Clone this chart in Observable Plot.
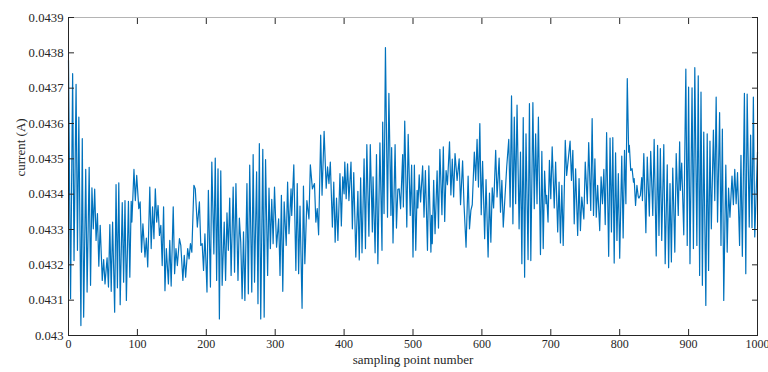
<!DOCTYPE html>
<html><head><meta charset="utf-8">
<script src="https://cdn.jsdelivr.net/npm/d3@7"></script>
<script src="https://cdn.jsdelivr.net/npm/@observablehq/plot@0.6"></script>
<style>
body{margin:0;background:#fff}
svg text{font-family:"Liberation Serif","Times New Roman",serif !important}
g[aria-label="y-axis tick label"] text{font-size:12.7px !important}
g[aria-label="x-axis tick label"] text{font-size:12px !important}
</style>
</head><body><div id="chart"></div>
<script>
// sampling point number (vertices of the trace)
const sampleNumber = [0,3,6,8,11,13,15,18,20,22,25,27,30,32,34,36,38,40,42,44,46,49,51,53,56,58,60,62,64,67,69,71,73,75,78,80,82,84,87,89,91,92,95,
97,99,102,104,106,108,111,113,115,118,120,122,124,126,128,130,132,134,136,138,140,142,145,147,149,152,154,156,158,161,163,166,168,170,173,175,177,179,182,184,187,190,192,194,196,198,
201,203,206,208,211,213,215,217,219,221,223,226,228,230,232,234,236,239,241,243,246,248,250,252,254,256,259,261,263,266,268,270,273,275,277,279,282,284,286,289,291,293,295,297,299,
302,305,307,309,311,313,316,318,320,323,324,327,330,332,334,336,339,341,343,346,349,351,354,357,359,361,363,366,368,371,374,376,378,380,383,385,387,389,391,394,396,398,400,
401,403,405,407,410,412,414,417,420,422,424,426,429,431,433,436,438,441,442,445,447,449,452,455,456,458,460,463,465,468,469,471,474,476,478,480,482,485,486,488,491,493,496,498,500,
502,504,506,507,509,511,514,516,518,521,523,526,527,528,530,532,535,537,539,542,544,546,548,550,553,555,557,559,561,564,567,569,572,574,577,580,582,584,586,589,591,593,595,597,599,601,604,
606,609,611,613,615,617,620,622,625,627,629,631,636,639,641,643,645,647,649,651,654,656,658,660,662,664,667,669,671,674,676,678,680,682,685,687,689,691,693,694,696,698,700,702,705,
707,710,712,714,716,718,721,723,728,730,732,734,736,739,741,743,745,748,750,753,755,758,760,762,764,766,768,771,773,775,777,779,781,784,786,788,790,792,794,796,798,800,803,805,807,
809,811,813,814,816,818,820,821,823,825,827,828,830,832,833,835,838,840,843,845,848,850,853,855,857,859,861,864,866,869,871,873,875,877,880,882,885,887,888,890,893,896,898,900,902,905,907,909,
912,914,916,918,920,922,925,927,929,931,933,936,938,940,942,945,947,949,951,954,956,958,960,963,965,967,969,971,974,976,978,981,983,985,988,990,992,994,996,1000];

// current (A)
const currentA = [0.043779,0.043104,0.043741,0.043212,0.043711,0.043241,0.043618,0.043028,0.043557,0.043052,0.043470,0.043123,0.043476,0.043142,0.043418,0.043302,0.043414,0.043269,0.043345,0.043196,0.043312,0.043156,0.043215,0.043146,0.043220,0.043137,0.043314,0.043125,0.043321,0.043066,0.043427,0.043135,0.043432,0.043087,0.043376,0.043151,0.043382,0.043099,0.043380,0.043165,0.043380,0.043321,0.043470,
0.043382,0.043453,0.043359,0.043378,0.043236,0.043316,0.043222,0.043276,0.043194,0.043420,0.043246,0.043364,0.043274,0.043415,0.043321,0.043368,0.043283,0.043312,0.043198,0.043364,0.043127,0.043246,0.043146,0.043269,0.043140,0.043364,0.043175,0.043246,0.043198,0.043274,0.043255,0.043156,0.043227,0.043165,0.043246,0.043217,0.043260,0.043236,0.043425,0.043415,0.043307,0.043378,0.043255,0.043260,0.043184,0.043288,
0.043123,0.043411,0.043137,0.043491,0.043231,0.043502,0.043156,0.043472,0.043047,0.043466,0.043142,0.043321,0.043156,0.043347,0.043241,0.043389,0.043170,0.043420,0.043179,0.043430,0.043156,0.043332,0.043264,0.043104,0.043293,0.043099,0.043430,0.043118,0.043482,0.043123,0.043512,0.043151,0.043463,0.043090,0.043543,0.043047,0.043527,0.043052,0.043498,0.043170,0.043417,0.043246,0.043385,0.043260,0.043420,
0.043250,0.043330,0.043170,0.043397,0.043125,0.043378,0.043255,0.043434,0.043288,0.043415,0.043340,0.043483,0.043184,0.043430,0.043175,0.043366,0.043077,0.043423,0.043203,0.043382,0.043330,0.043483,0.043415,0.043430,0.043321,0.043359,0.043285,0.043567,0.043397,0.043578,0.043417,0.043477,0.043430,0.043491,0.043307,0.043434,0.043264,0.043389,0.043269,0.043458,0.043310,0.043449,0.043401,
0.043491,0.043387,0.043486,0.043382,0.043491,0.043302,0.043461,0.043222,0.043408,0.043214,0.043446,0.043234,0.043500,0.043246,0.043540,0.043281,0.043540,0.043293,0.043449,0.043234,0.043512,0.043203,0.043545,0.043241,0.043604,0.043345,0.043815,0.043335,0.043685,0.043340,0.043532,0.043262,0.043540,0.043304,0.043414,0.043415,0.043359,0.043512,0.043364,0.043607,0.043307,0.043569,0.043340,0.043482,0.043222,
0.043482,0.043241,0.043411,0.043361,0.043455,0.043378,0.043480,0.043335,0.043467,0.043241,0.043480,0.043236,0.043340,0.043260,0.043439,0.043288,0.043466,0.043304,0.043527,0.043342,0.043534,0.043323,0.043467,0.043427,0.043548,0.043398,0.043499,0.043392,0.043515,0.043439,0.043500,0.043370,0.043494,0.043373,0.043250,0.043451,0.043302,0.043354,0.043370,0.043519,0.043439,0.043555,0.043420,0.043600,0.043342,0.043493,0.043274,
0.043441,0.043222,0.043403,0.043264,0.043418,0.043361,0.043524,0.043392,0.043502,0.043349,0.043439,0.043307,0.043477,0.043555,0.043364,0.043678,0.043316,0.043618,0.043373,0.043652,0.043302,0.043519,0.043203,0.043617,0.043165,0.043571,0.043215,0.043656,0.043212,0.043659,0.043359,0.043571,0.043373,0.043618,0.043229,0.043521,0.043246,0.043465,0.043373,0.043397,0.043321,0.043496,0.043387,0.043534,0.043361,
0.043491,0.043293,0.043434,0.043262,0.043425,0.043255,0.043552,0.043453,0.043550,0.043439,0.043524,0.043316,0.043472,0.043283,0.043444,0.043297,0.043392,0.043330,0.043491,0.043373,0.043546,0.043354,0.043614,0.043340,0.043500,0.043335,0.043425,0.043297,0.043449,0.043373,0.043470,0.043314,0.043574,0.043224,0.043559,0.043293,0.043560,0.043205,0.043517,0.043269,0.043458,0.043219,0.043508,0.043276,0.043524,
0.043373,0.043727,0.043519,0.043538,0.043467,0.043472,0.043434,0.043444,0.043368,0.043425,0.043392,0.043389,0.043397,0.043447,0.043382,0.043515,0.043291,0.043505,0.043338,0.043521,0.043340,0.043555,0.043225,0.043538,0.043283,0.043529,0.043269,0.043540,0.043203,0.043483,0.043192,0.043430,0.043208,0.043474,0.043236,0.043515,0.043340,0.043548,0.043411,0.043488,0.043285,0.043754,0.043255,0.043703,0.043203,0.043701,0.043246,0.043758,
0.043255,0.043735,0.043170,0.043689,0.043142,0.043576,0.043085,0.043571,0.043184,0.043550,0.043302,0.043581,0.043382,0.043675,0.043321,0.043631,0.043255,0.043584,0.043099,0.043482,0.043236,0.043417,0.043335,0.043451,0.043370,0.043470,0.043373,0.043461,0.043255,0.043510,0.043224,0.043685,0.043175,0.043683,0.043307,0.043567,0.043305,0.043675,0.043279,0.043519];

const xTicks = [0,100,200,300,400,500,600,700,800,900,1000];
const yTicks = [0.043,0.0431,0.0432,0.0433,0.0434,0.0435,0.0436,0.0437,0.0438,0.0439];
const xLabel = "sampling point number";
const yLabel = "current (A)";

const data = sampleNumber.map((s, i) => ({s, c: currentA[i]}));
const ink = "#262626";
const serif = "'Liberation Serif', 'Times New Roman', serif";
const fmtY = d => String(+d.toFixed(4));

const chart = Plot.plot({
  width: 768, height: 372,
  marginLeft: 68, marginRight: 11, marginTop: 17, marginBottom: 37,
  style: {fontFamily: serif, color: ink, background: "#fff"},
  x: {domain: [0, 1000]},
  y: {domain: [0.043, 0.0439]},
  marks: [
    Plot.line(data, {x: "s", y: "c", stroke: "#0072BD", strokeWidth: 1.2}),
    Plot.ruleY([0.0439], {stroke: "#b4b4b4"}),
    Plot.ruleY([0.043], {stroke: ink}),
    Plot.ruleX([0, 1000], {stroke: ink}),
    Plot.axisX({ticks: xTicks, tickSize: -6, tickPadding: 10, tickFormat: d => String(d), label: null, stroke: ink, fill: ink}),
    Plot.axisX({anchor: "top", ticks: xTicks, tickSize: -6, tickFormat: () => "", label: null, stroke: ink}),
    Plot.axisY({ticks: yTicks, tickSize: -6, tickPadding: 11, tickFormat: fmtY, label: null, stroke: ink, fill: ink}),
    Plot.axisY({anchor: "right", ticks: yTicks, tickSize: -6, tickFormat: () => "", label: null, stroke: ink}),
    Plot.text([xLabel], {frameAnchor: "bottom", dy: 28, fill: ink, fontSize: 13}),
    Plot.text([yLabel], {frameAnchor: "left", dx: -48, rotate: -90, fill: ink, fontSize: 13})
  ]
});
document.getElementById("chart").appendChild(chart);
</script>
</body></html>
